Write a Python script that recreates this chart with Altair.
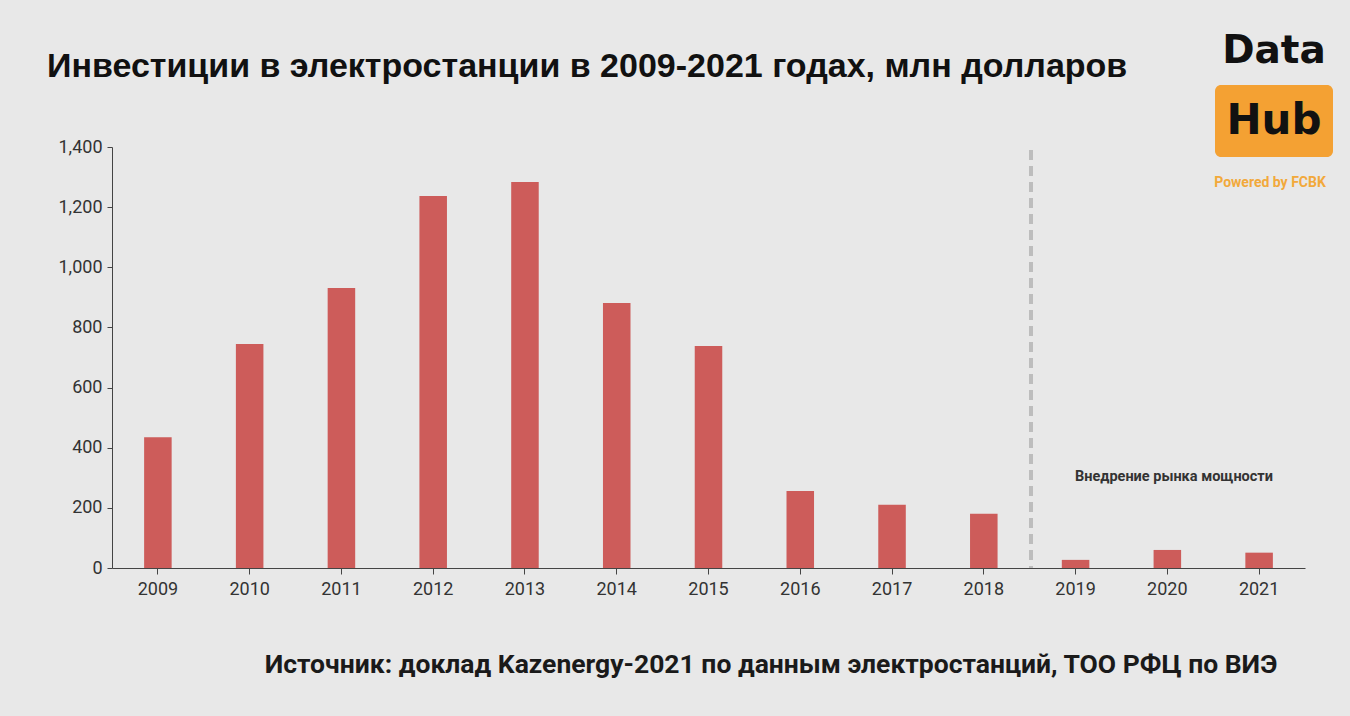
import altair as alt
import pandas as pd

years = ["2009", "2010", "2011", "2012", "2013", "2014", "2015",
         "2016", "2017", "2018", "2019", "2020", "2021"]
values = [435, 745, 931, 1237, 1284, 881, 738, 256, 210, 180, 27, 60, 51]
y_ticks = [0, 200, 400, 600, 800, 1000, 1200, 1400]

title_text = "Инвестиции в электростанции в 2009-2021 годах, млн долларов"
source_text = "Источник: доклад Kazenergy-2021 по данным электростанций, ТОО РФЦ по ВИЭ"
note_text = "Внедрение рынка мощности"

df = pd.DataFrame({"year": years, "value": values})

FONT = "Roboto"
W, H = 1193, 421

bars = alt.Chart(df).mark_bar(color="#cd5c5a").encode(
    x=alt.X("year:N", sort=years,
            scale=alt.Scale(paddingInner=0.7, paddingOuter=0.35),
            axis=alt.Axis(title=None, labelAngle=0, labelFontSize=18,
                          labelColor="#333", labelFont=FONT, labelPadding=6,
                          domainColor="#444", tickColor="#444", tickSize=6)),
    y=alt.Y("value:Q", scale=alt.Scale(domain=[0, 1400], nice=False),
            axis=alt.Axis(title=None, values=y_ticks, format=",.0f", grid=False,
                          labelFontSize=18, labelColor="#333", labelFont=FONT,
                          labelPadding=5, domainColor="#444", tickColor="#444",
                          tickSize=5)),
)

divider = alt.Chart(pd.DataFrame({"a": [0]})).mark_rule(
    color="#bdbdbd", strokeWidth=4, strokeDash=[10, 6]
).encode(x=alt.value(919), y=alt.value(3), y2=alt.value(H))

def text_layer(txt, x, y, size, color="#111", weight="bold", align="left",
               baseline="alphabetic", font=FONT):
    return alt.Chart(pd.DataFrame({"t": [txt]})).mark_text(
        font=font, fontSize=size, fontWeight=weight, color=color,
        align=align, baseline=baseline
    ).encode(text="t:N", x=alt.value(x), y=alt.value(y))

title = text_layer(title_text, -65, -70, 34, font="Liberation Sans")
source = text_layer(source_text, 659, 526, 26.5, color="#1a1a1a", align="center")
note = text_layer(note_text, 1062, 330, 14.5, color="#333", align="center",
                  baseline="middle")

logo_rect = alt.Chart(pd.DataFrame({"a": [0]})).mark_rect(
    color="#f4a133", cornerRadius=6
).encode(x=alt.value(1103), x2=alt.value(1221), y=alt.value(-62), y2=alt.value(10))
logo_data = text_layer("Data", 1162, -84, 39, color="#111", align="center",
                       font="DejaVu Sans")
logo_hub = text_layer("Hub", 1162, -13, 42, color="#111", align="center",
                      font="DejaVu Sans")
logo_pow = text_layer("Powered by FCBK", 1158, 40, 14, color="#f2a93b",
                      align="center")

chart = alt.layer(
    bars, divider, note, title, source, logo_rect, logo_data, logo_hub, logo_pow
).properties(
    width=W, height=H,
    background="#e8e8e8",
    padding={"left": 112, "top": 147, "right": 45, "bottom": 148},
    autosize=alt.AutoSizeParams(type="none"),
).configure_view(stroke=None)

chart.save("out.html", embed_options={"renderer": "svg", "actions": False})
